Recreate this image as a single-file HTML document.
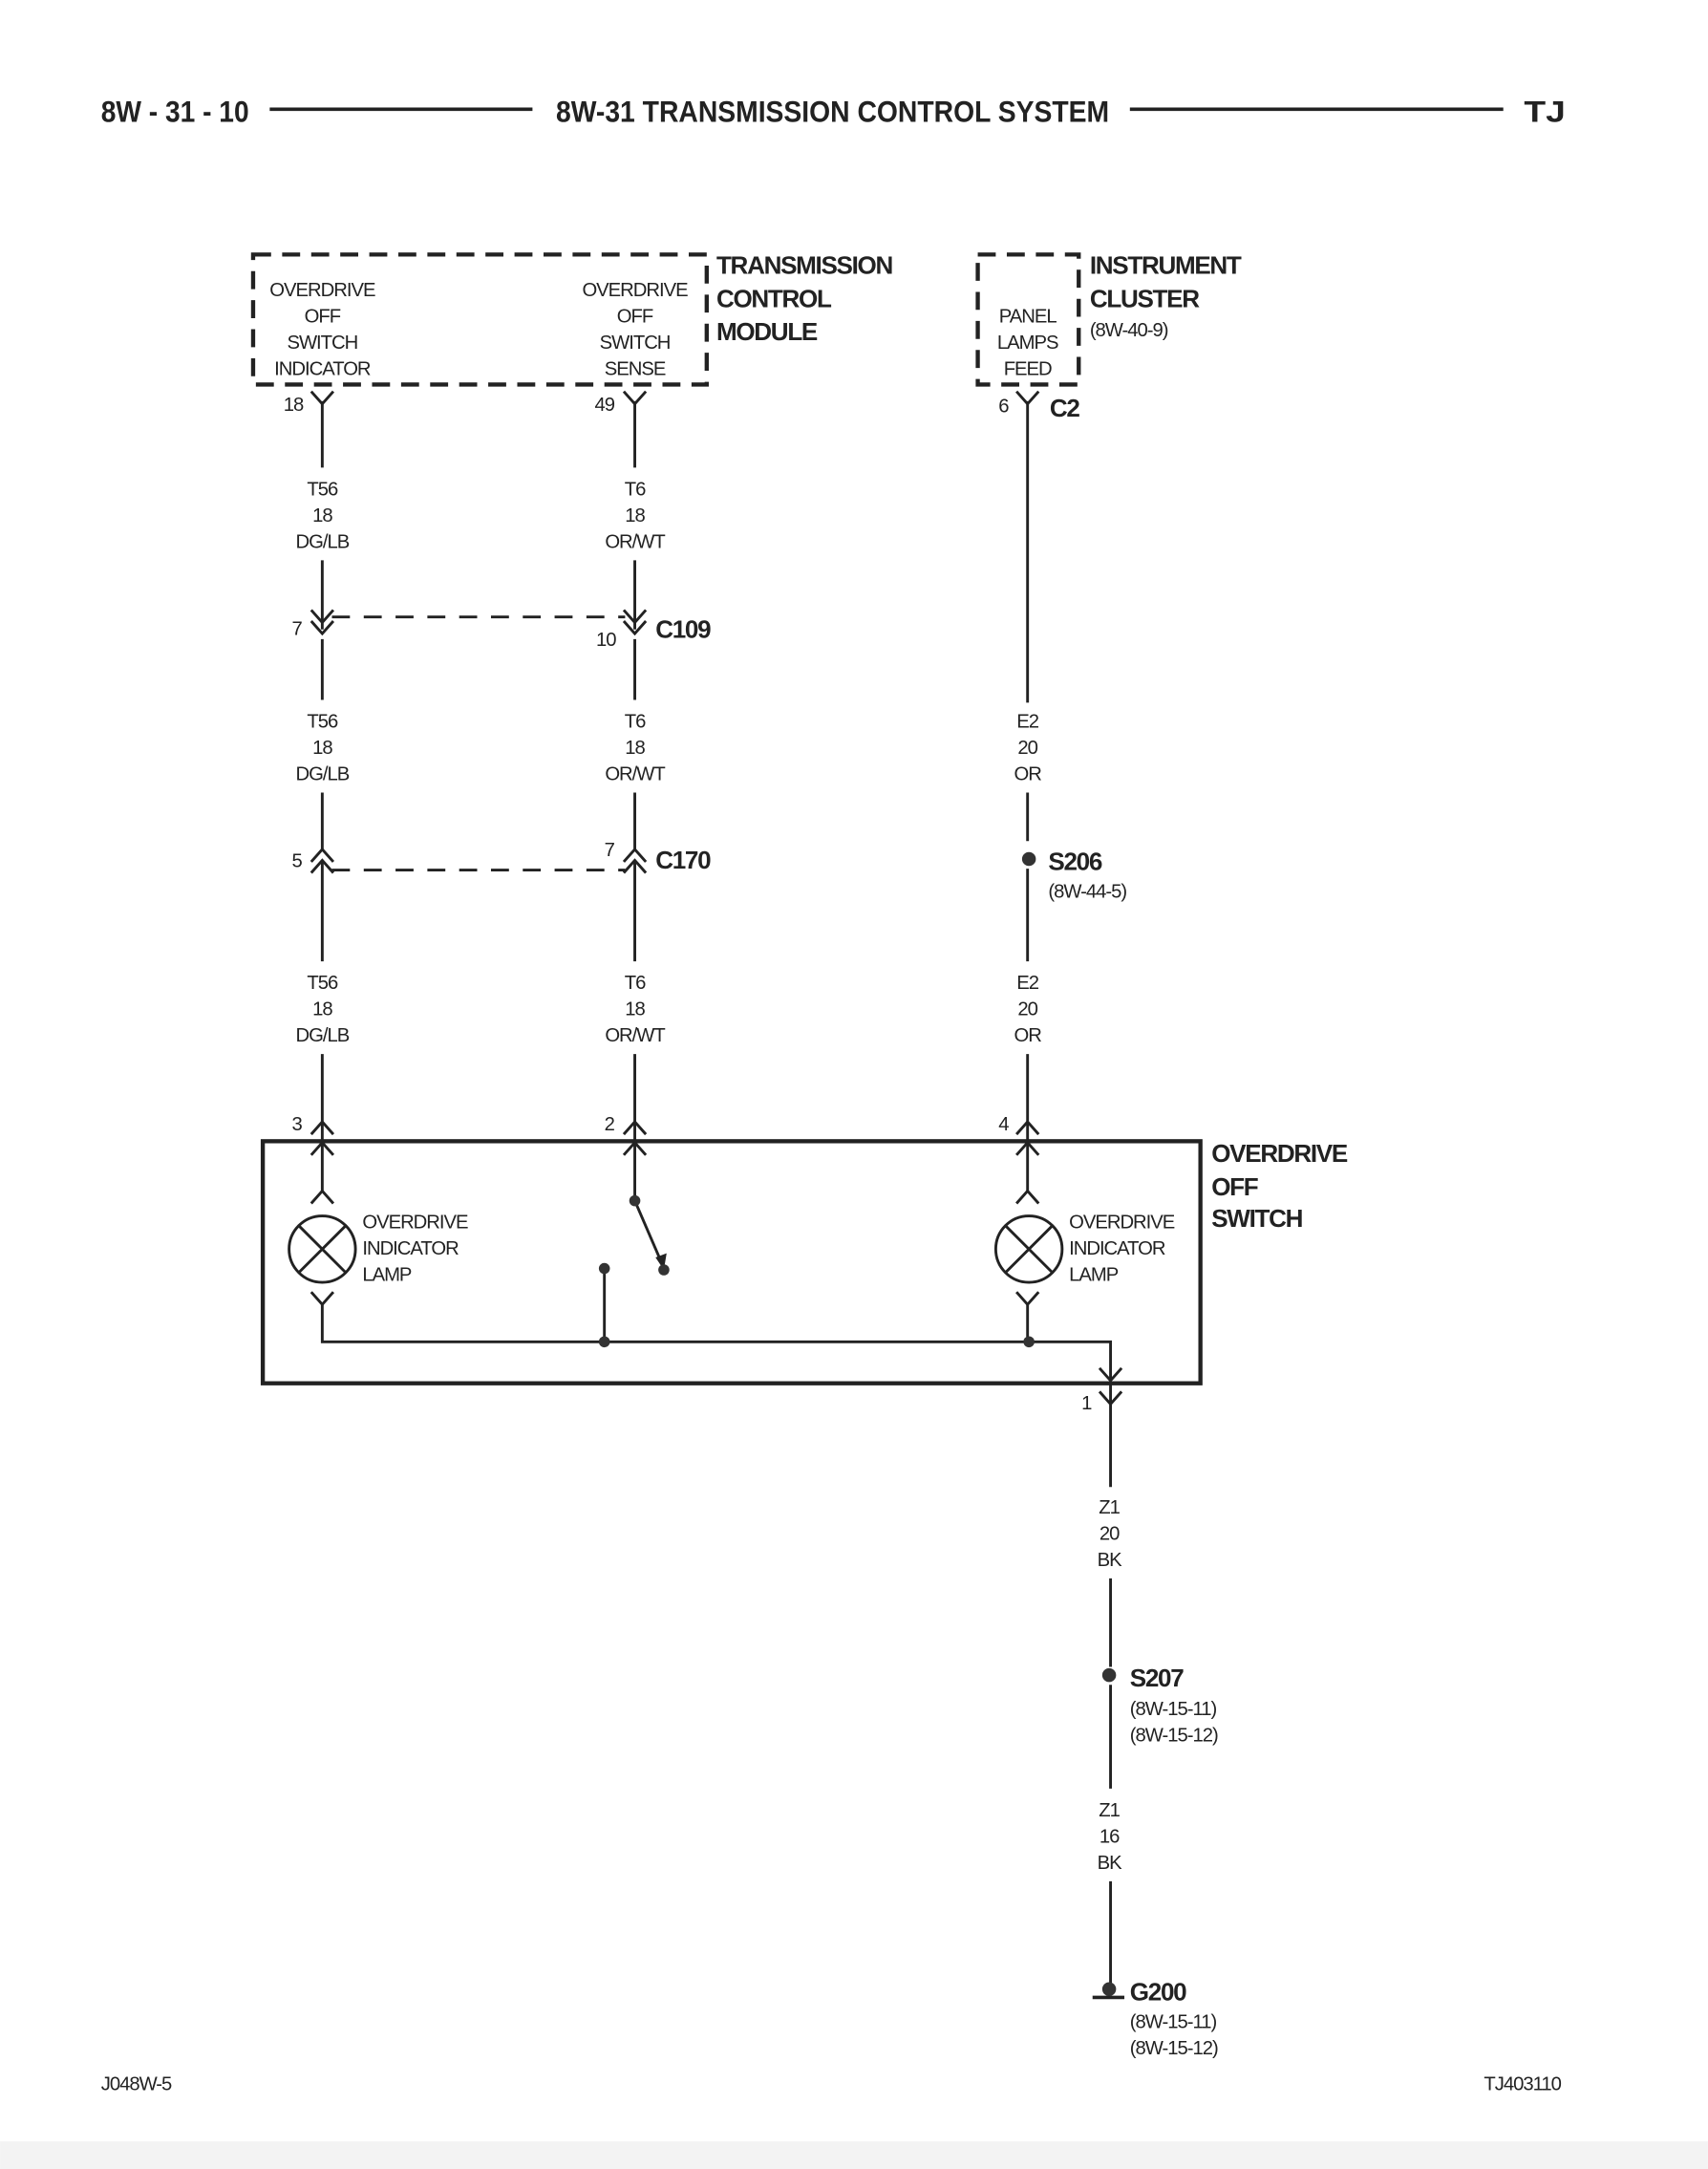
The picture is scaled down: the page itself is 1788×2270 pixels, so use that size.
<!DOCTYPE html>
<html><head><style>html,body{margin:0;padding:0;background:#fff}svg{display:block}.n{letter-spacing:-0.7px}.b{letter-spacing:-0.9px}</style></head><body>
<svg xmlns="http://www.w3.org/2000/svg" width="1788" height="2270" viewBox="0 0 1235 1568" font-family="Liberation Sans, sans-serif" fill="#222">
<rect x="0" y="1548" width="1235" height="20" fill="#f3f3f3"/>
<g font-weight="bold" font-size="22">
<text x="73" y="88" textLength="107" lengthAdjust="spacingAndGlyphs">8W - 31 - 10</text>
<text x="402" y="88" textLength="400" lengthAdjust="spacingAndGlyphs">8W-31 TRANSMISSION CONTROL SYSTEM</text>
<text x="1102" y="88" textLength="30" lengthAdjust="spacingAndGlyphs">TJ</text>
</g>
<g stroke="#222" stroke-width="2.5"><line x1="195" y1="79" x2="385" y2="79"/><line x1="817" y1="79" x2="1087" y2="79"/></g>
<g fill="none" stroke="#222" stroke-width="3" stroke-dasharray="13,8">
<rect x="183" y="184" width="328" height="94"/>
<rect x="707" y="184" width="73" height="94"/>
</g>
<g font-size="14" text-anchor="middle" class="n">
<text x="233" y="214">OVERDRIVE</text><text x="233" y="233">OFF</text><text x="233" y="252">SWITCH</text><text x="233" y="271">INDICATOR</text>
<text x="459" y="214">OVERDRIVE</text><text x="459" y="233">OFF</text><text x="459" y="252">SWITCH</text><text x="459" y="271">SENSE</text>
<text x="743" y="233">PANEL</text><text x="743" y="252">LAMPS</text><text x="743" y="271">FEED</text>
</g>
<g font-weight="bold" font-size="18" class="b">
<text x="518" y="198">TRANSMISSION</text><text x="518" y="222">CONTROL</text><text x="518" y="246">MODULE</text>
<text x="788" y="198">INSTRUMENT</text><text x="788" y="222">CLUSTER</text>
<text x="759" y="301">C2</text><text x="474" y="461">C109</text><text x="474" y="628">C170</text><text x="758" y="629">S206</text>
<text x="876" y="840">OVERDRIVE</text><text x="876" y="864">OFF</text><text x="876" y="887">SWITCH</text>
<text x="817" y="1219">S207</text><text x="817" y="1446">G200</text>
</g>
<g font-size="14" class="n">
<text x="788" y="243">(8W-40-9)</text>
<text x="205" y="297">18</text><text x="430" y="297">49</text><text x="722" y="298">6</text>
<text x="211" y="459">7</text><text x="431" y="467">10</text>
<text x="211" y="627">5</text><text x="437" y="619">7</text>
<text x="758" y="649">(8W-44-5)</text>
<text x="211" y="817">3</text><text x="437" y="817">2</text><text x="722" y="817">4</text>
<text x="782" y="1019">1</text>
<text x="817" y="1240">(8W-15-11)</text><text x="817" y="1259">(8W-15-12)</text>
<text x="817" y="1466">(8W-15-11)</text><text x="817" y="1485">(8W-15-12)</text>
<text x="262" y="888">OVERDRIVE</text><text x="262" y="907">INDICATOR</text><text x="262" y="926">LAMP</text>
<text x="773" y="888">OVERDRIVE</text><text x="773" y="907">INDICATOR</text><text x="773" y="926">LAMP</text>
<text x="73" y="1511">J048W-5</text><text x="1073" y="1511">TJ403110</text>
</g>
<g font-size="14" text-anchor="middle" class="n">
<text x="233" y="358">T56</text><text x="233" y="377">18</text><text x="233" y="396">DG/LB</text>
<text x="459" y="358">T6</text><text x="459" y="377">18</text><text x="459" y="396">OR/WT</text>
<text x="233" y="526">T56</text><text x="233" y="545">18</text><text x="233" y="564">DG/LB</text>
<text x="459" y="526">T6</text><text x="459" y="545">18</text><text x="459" y="564">OR/WT</text>
<text x="743" y="526">E2</text><text x="743" y="545">20</text><text x="743" y="564">OR</text>
<text x="233" y="715">T56</text><text x="233" y="734">18</text><text x="233" y="753">DG/LB</text>
<text x="459" y="715">T6</text><text x="459" y="734">18</text><text x="459" y="753">OR/WT</text>
<text x="743" y="715">E2</text><text x="743" y="734">20</text><text x="743" y="753">OR</text>
<text x="802" y="1094">Z1</text><text x="802" y="1113">20</text><text x="802" y="1132">BK</text>
<text x="802" y="1313">Z1</text><text x="802" y="1332">16</text><text x="802" y="1351">BK</text>
</g>
<g fill="none" stroke="#222" stroke-width="2">
<path d="M233 290V338M233 405V455M233 462V506M233 573V614M233 622V695M233 762V828"/>
<path d="M459 290V338M459 405V455M459 462V506M459 573V614M459 622V695M459 762V828"/>
<path d="M743 290V508M743 573V608M743 628V695M743 762V828"/>
<path d="M803 1000V1075M803 1141V1205M803 1218V1293M803 1360V1435"/>
<path d="M225 283L233 292L241 283M451 283L459 292L467 283M735 283L743 292L751 283"/>
<path d="M225 441L233 450L241 441M225 449L233 458L241 449M451 441L459 450L467 441M451 449L459 458L467 449"/>
<path d="M225 623L233 614L241 623M225 631L233 622L241 631M451 623L459 614L467 623M451 631L459 622L467 631"/>
<path d="M225 820L233 811L241 820M451 820L459 811L467 820M735 820L743 811L751 820"/>
<path d="M225 835L233 826L241 835M451 835L459 826L467 835M735 835L743 826L751 835"/>
<path d="M225 870L233 861L241 870M735 870L743 861L751 870M225 934L233 943L241 934M735 934L743 943L751 934"/>
<path d="M233 827V862M743 827V862M233 942V970H803V998M743 942V970M459 827V868M437 917V970"/>
<path d="M795 989L803 998L811 989M795 1006L803 1015L811 1006"/>
<circle cx="233" cy="903" r="24"/><path d="M216 886L250 920M250 886L216 920"/>
<circle cx="744" cy="903" r="24"/><path d="M727 886L761 920M761 886L727 920"/>
<path d="M459 868L478 912"/>
</g>
<path d="M474 909L480 918L482 906Z" fill="#222"/>
<rect x="190" y="825" width="678" height="175" fill="none" stroke="#222" stroke-width="3"/>
<g fill="none" stroke="#222" stroke-width="2" stroke-dasharray="13,10">
<path d="M240 446H452M240 629H452"/>
</g>
<g fill="#333">
<circle cx="459" cy="868" r="4"/><circle cx="480" cy="918" r="4"/><circle cx="437" cy="917" r="4"/>
<circle cx="437" cy="970" r="4"/><circle cx="744" cy="970" r="4"/>
<circle cx="744" cy="621" r="5"/><circle cx="802" cy="1211" r="5"/><circle cx="802" cy="1438" r="5"/>
</g>
<line x1="790" y1="1444" x2="813" y2="1444" stroke="#222" stroke-width="2.5"/>
</svg>
</body></html>
